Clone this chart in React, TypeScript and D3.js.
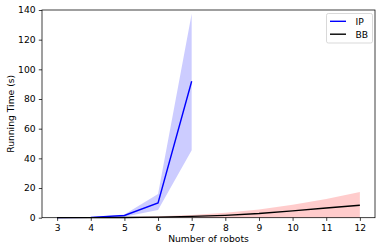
import { useEffect, useRef } from 'react'
import * as d3 from 'd3'

const robots = [3, 4, 5, 6, 7, 8, 9, 10, 11, 12]

const ipRobots = [3, 4, 5, 6, 7]
const ipMean = [0.05, 0.2, 1.5, 10, 92]
const ipLow = [0.02, 0.1, 0.6, 5.2, 45.5]
const ipHigh = [0.1, 0.3, 2.2, 16, 137.5]

const bbMean = [0.02, 0.05, 0.15, 0.4, 0.9, 1.6, 2.8, 4.6, 6.5, 8.4]
const bbLow = [0, 0, 0, 0, 0, 0, 0, 0, 0, 0]
const bbHigh = [0.05, 0.1, 0.4, 0.9, 1.9, 3.3, 5.6, 8.8, 12.6, 17.3]

const xTicks = [3, 4, 5, 6, 7, 8, 9, 10, 11, 12]
const yTicks = [0, 20, 40, 60, 80, 100, 120, 140]

export default function App() {
  const ref = useRef<SVGSVGElement>(null)

  useEffect(() => {
    const svg = d3.select(ref.current)
    svg.selectAll('*').remove()

    const margin = { top: 10, right: 8, bottom: 34.3, left: 42 }
    const W = 383
    const H = 252
    const width = W - margin.left - margin.right
    const height = H - margin.top - margin.bottom
    const font = 'DejaVu Sans, sans-serif'
    const fs = '9.2px'

    const g = svg.append('g').attr('transform', `translate(${margin.left},${margin.top})`)

    const x = d3.scaleLinear().domain([2.55, 12.45]).range([0, width])
    const y = d3.scaleLinear().domain([0, 140]).range([height, 0])

    const area = d3.area<[number, number, number]>()
      .x(d => x(d[0]))
      .y0(d => y(d[1]))
      .y1(d => y(d[2]))

    const line = d3.line<[number, number]>()
      .x(d => x(d[0]))
      .y(d => y(d[1]))

    g.append('path')
      .datum(robots.map((r, i) => [r, bbLow[i], bbHigh[i]] as [number, number, number]))
      .attr('d', area)
      .attr('fill', '#ff0000')
      .attr('fill-opacity', 0.2)

    g.append('path')
      .datum(ipRobots.map((r, i) => [r, ipLow[i], ipHigh[i]] as [number, number, number]))
      .attr('d', area)
      .attr('fill', '#0000ff')
      .attr('fill-opacity', 0.2)

    g.append('path')
      .datum(ipRobots.map((r, i) => [r, ipMean[i]] as [number, number]))
      .attr('d', line)
      .attr('fill', 'none')
      .attr('stroke', '#0000ff')
      .attr('stroke-width', 1.4)

    g.append('path')
      .datum(robots.map((r, i) => [r, bbMean[i]] as [number, number]))
      .attr('d', line)
      .attr('fill', 'none')
      .attr('stroke', '#000000')
      .attr('stroke-width', 1.4)

    // axes
    const xAxis = g.append('g')
      .attr('transform', `translate(0,${height})`)
      .call(d3.axisBottom(x).tickValues(xTicks).tickSize(3.2).tickPadding(3.2).tickFormat(d3.format('d')))
    const yAxis = g.append('g')
      .call(d3.axisLeft(y).tickValues(yTicks).tickSize(3.2).tickPadding(3.2).tickFormat(d3.format('d')))

    for (const ax of [xAxis, yAxis]) {
      ax.select('.domain').remove()
      ax.selectAll('line').attr('stroke', '#000').attr('stroke-width', 0.75)
      ax.selectAll('text').style('font-family', font).style('font-size', fs).attr('fill', '#000')
    }

    g.append('rect')
      .attr('width', width)
      .attr('height', height)
      .attr('fill', 'none')
      .attr('stroke', '#000')
      .attr('stroke-width', 0.75)

    svg.append('text')
      .attr('x', margin.left + width / 2)
      .attr('y', 241.7)
      .attr('text-anchor', 'middle')
      .style('font-family', font)
      .style('font-size', fs)
      .text('Number of robots')

    svg.append('text')
      .attr('transform', `translate(13.5,${margin.top + height / 2}) rotate(-90)`)
      .attr('text-anchor', 'middle')
      .style('font-family', font)
      .style('font-size', fs)
      .text('Running Time (s)')

    // legend
    const legend = svg.append('g').attr('transform', 'translate(326.5,13.5)')
    legend.append('rect')
      .attr('width', 46)
      .attr('height', 29.5)
      .attr('rx', 1.8)
      .attr('fill', '#fff')
      .attr('fill-opacity', 0.8)
      .attr('stroke', '#cccccc')
      .attr('stroke-width', 0.75)

    const items = [{ name: 'IP', color: '#0000ff' }, { name: 'BB', color: '#000000' }]
    items.forEach((it, i) => {
      const yy = 7.8 + i * 12.9
      legend.append('line')
        .attr('x1', 3.5).attr('x2', 19.5).attr('y1', yy).attr('y2', yy)
        .attr('stroke', it.color).attr('stroke-width', 1.4)
      legend.append('text')
        .attr('x', 29).attr('y', yy + 3.3)
        .style('font-family', font)
        .style('font-size', fs)
        .text(it.name)
    })
  }, [])

  return (
    <svg ref={ref} width={383} height={252} style={{ position: 'absolute', left: 0, top: 0, background: '#fff' }} />
  )
}
